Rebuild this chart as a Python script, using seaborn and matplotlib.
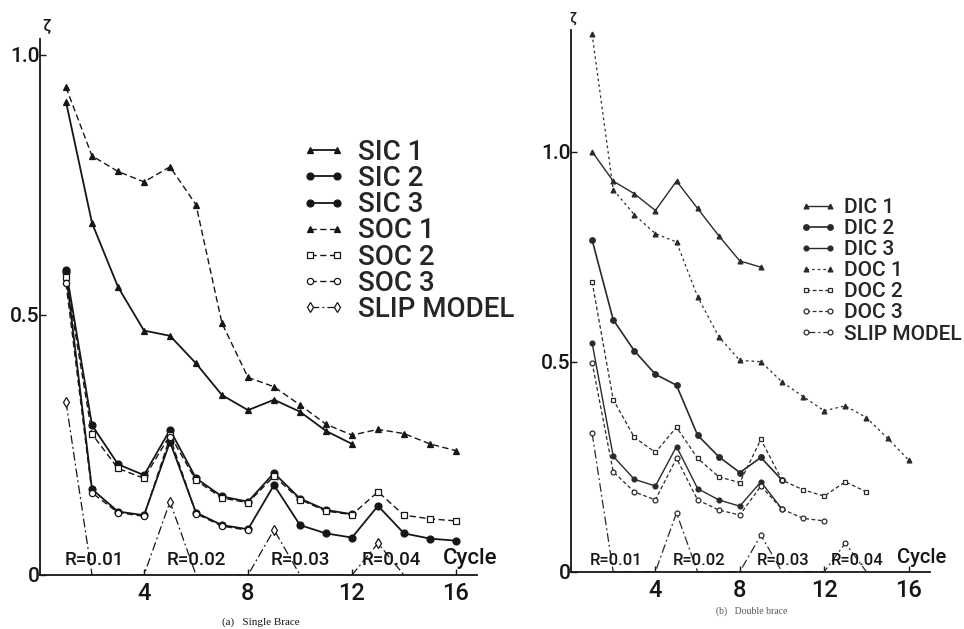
import matplotlib
matplotlib.use("Agg")
import numpy as np
import pandas as pd
import seaborn as sns
import matplotlib.pyplot as plt

# ---------------- data: (a) Single Brace ----------------
cycles = list(range(1, 17))
sic1 = [0.91, 0.677, 0.554, 0.47, 0.46, 0.407, 0.346, 0.317, 0.337, 0.314, 0.277, 0.252]
sic2 = [0.587, 0.288, 0.213, 0.192, 0.279, 0.186, 0.151, 0.141, 0.196, 0.147, 0.125, 0.117]
sic3 = [0.582, 0.165, 0.122, 0.115, 0.256, 0.12, 0.096, 0.088, 0.173, 0.096, 0.08, 0.072,
        0.133, 0.08, 0.07, 0.066]
soc1 = [0.938, 0.806, 0.776, 0.756, 0.785, 0.712, 0.484, 0.38, 0.362, 0.327, 0.29, 0.269,
        0.28, 0.272, 0.252, 0.239]
soc2 = [0.574, 0.271, 0.205, 0.186, 0.269, 0.182, 0.148, 0.139, 0.19, 0.145, 0.123, 0.116,
        0.16, 0.115, 0.108, 0.104]
soc3 = [0.561, 0.158, 0.12, 0.113, 0.265, 0.118, 0.094, 0.086]
slip_a = [0.333, 0, 0, 0, 0.141, 0, 0, 0, 0.087, 0, 0, 0, 0.061, 0]

# ---------------- data: (b) Double Brace ----------------
dic1 = [1.0, 0.93, 0.90, 0.86, 0.93, 0.865, 0.80, 0.74, 0.725]
dic2 = [0.79, 0.60, 0.526, 0.47, 0.444, 0.325, 0.274, 0.236, 0.272, 0.218]
dic3 = [0.545, 0.275, 0.22, 0.204, 0.298, 0.198, 0.171, 0.156, 0.214, 0.149]
doc1 = [1.28, 0.91, 0.85, 0.805, 0.785, 0.655, 0.56, 0.503, 0.50, 0.452, 0.417, 0.383,
        0.395, 0.367, 0.318, 0.266]
doc2 = [0.69, 0.41, 0.32, 0.284, 0.344, 0.27, 0.226, 0.212, 0.315, 0.218, 0.195, 0.18,
        0.214, 0.19]
doc3 = [0.498, 0.238, 0.19, 0.171, 0.27, 0.171, 0.147, 0.135, 0.204, 0.149, 0.127, 0.121]
slip_b = [0.33, 0, 0, 0, 0.14, 0, 0, 0, 0.087, 0, 0, 0, 0.068, 0]

r_labels = ["R=0.01", "R=0.02", "R=0.03", "R=0.04"]
r_pos = [2.1, 6.0, 10.0, 13.5]
xticks = [4, 8, 12, 16]

sns.set_style("ticks")
plt.rcParams['font.family'] = ['Roboto', 'DejaVu Sans']
plt.rcParams['font.weight'] = 'medium'

W, H = 964, 629
fig = plt.figure(figsize=(W / 100, H / 100), dpi=100)

# axes placement (pixels)
axA = fig.add_axes([40 / W, (H - 575) / H, 26 * 16.8 / W, 520 * 1.03 / H])
axB = fig.add_axes([571 / W, (H - 571.7) / H, 21.1 * 17.0 / W, 420 * 1.29 / H])

K = '#161616'
G = '#2a2a2a'


def draw(ax, y, label, ls, marker, ms, mfc, lw, color, markevery=None):
    kw = dict(x=cycles[:len(y)], y=y, ax=ax, color=color, linestyle=ls, marker=marker,
              markersize=ms, markerfacecolor=mfc, markeredgecolor=color,
              markeredgewidth=0.9, linewidth=lw, label=label, estimator=None, sort=False)
    if markevery is not None:
        kw['markevery'] = markevery
    sns.lineplot(**kw)


dash = (0, (4.5, 2.5))
dashdot = (0, (7, 2.5, 1.5, 2.5))

# panel (a)
draw(axA, sic1, "SIC 1", '-', '^', 5, K, 1.3, K)
draw(axA, sic2, "SIC 2", '-', 'o', 5, K, 1.3, K)
draw(axA, sic3, "SIC 3", '-', 'o', 5, K, 1.3, K)
draw(axA, soc1, "SOC 1", dash, '^', 5, K, 1.0, K)
draw(axA, soc2, "SOC 2", dash, 's', 4.5, 'white', 1.0, K)
draw(axA, soc3, "SOC 3", dash, 'o', 4.5, 'white', 1.0, K)
draw(axA, slip_a, "SLIP MODEL", dashdot, 'd', 5, 'white', 0.9, K, markevery=[0, 4, 8, 12])

# panel (b)
dash_b = (0, (3, 2))
dot_b = (0, (2, 2.5))
draw(axB, dic1, "DIC 1", '-', '^', 3.5, G, 1.0, G)
draw(axB, dic2, "DIC 2", '-', 'o', 4, G, 1.2, G)
draw(axB, dic3, "DIC 3", '-', 'o', 3.5, G, 1.0, G)
draw(axB, doc1, "DOC 1", dot_b, '^', 3.5, G, 0.9, G)
draw(axB, doc2, "DOC 2", dash_b, 's', 3.5, 'white', 0.9, G)
draw(axB, doc3, "DOC 3", dash_b, 'o', 3.5, 'white', 0.9, G)
draw(axB, slip_b, "SLIP MODEL", dashdot, 'o', 3.5, 'white', 0.9, G, markevery=[0, 4, 8, 12])

for ax, ymax, xmax in [(axA, 1.03, 16.8), (axB, 1.29, 17.0)]:
    ax.set_xlim(0, xmax)
    ax.set_ylim(0, ymax)
    ax.set_xlabel("")
    ax.set_ylabel("")
    ax.set_xticks(xticks)
    ax.set_xticklabels([str(t) for t in xticks], fontsize=17)
    ax.set_yticks([0, 0.5, 1.0])
    ax.set_yticklabels(["0", "0.5", "1.0"], fontsize=15)
    ax.tick_params(axis='both', direction='in', length=4, width=1.0, colors=K)
    ax.tick_params(axis='y', pad=0.5)
    ax.tick_params(axis='x', pad=5)
    for s in ['top', 'right']:
        ax.spines[s].set_visible(False)
    for s in ['left', 'bottom']:
        ax.spines[s].set_color(K)
        ax.spines[s].set_linewidth(1.3)
    ax.set_facecolor('white')

# annotations
for lab, xp in zip(r_labels, r_pos):
    axA.text(xp, 0.012, lab, ha='center', va='bottom', fontsize=13.5, color=K)
    axB.text(xp + 0.05, 0.008, lab, ha='center', va='bottom', fontsize=12, color=K)
axA.text(15.5, 0.012, "Cycle", ha='left', va='bottom', fontsize=16, color=K)
axB.text(15.45, 0.012, "Cycle", ha='left', va='bottom', fontsize=14.5, color=K)
axA.text(0.25, 1.055, "ζ", ha='center', va='center', fontsize=12, color=K, clip_on=False)
axB.text(0.1, 1.318, "ζ", ha='center', va='center', fontsize=10, color=K, clip_on=False)

# legends
hA, lA = axA.get_legend_handles_labels()
axA.legend(hA, lA, loc='upper left', bbox_to_anchor=(302 / W, 1 - 139 / H),
           bbox_transform=fig.transFigure, frameon=False, fontsize=20, numpoints=2,
           handlelength=1.55, handletextpad=0.45, labelspacing=-0.03, borderpad=0,
           borderaxespad=0)
hB, lB = axB.get_legend_handles_labels()
axB.legend(hB, lB, loc='upper left', bbox_to_anchor=(800 / W, 1 - 198 / H),
           bbox_transform=fig.transFigure, frameon=False, fontsize=15, numpoints=2,
           handlelength=1.75, handletextpad=0.35, labelspacing=0.1, borderpad=0,
           borderaxespad=0)

# captions
fig.text(261 / W, 1 - 622 / H, "(a)   Single Brace", ha='center', va='center', fontsize=8,
         family=['Liberation Serif', 'DejaVu Serif'], color=K)
fig.text(752 / W, 1 - 611 / H, "(b)   Double brace", ha='center', va='center', fontsize=7,
         family=['Liberation Serif', 'DejaVu Serif'], color='#555555')

fig.savefig("out.png", dpi=100, facecolor='white')
